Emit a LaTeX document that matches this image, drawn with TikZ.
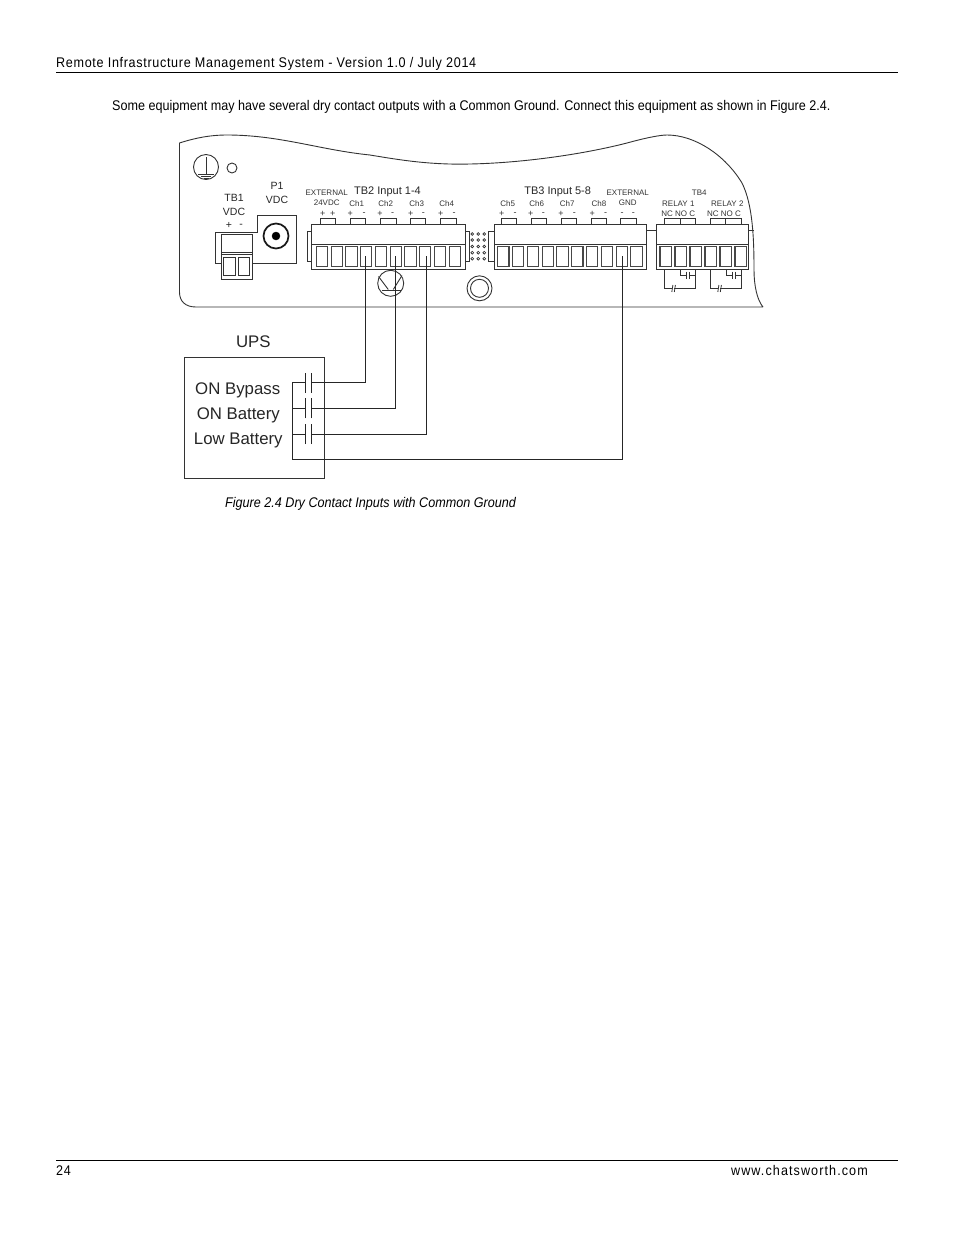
\documentclass[tikz,border=0pt]{standalone}
\usepackage{fontspec}
\setmainfont{Liberation Sans}[FakeStretch=0.9]
\newfontfamily\wide{Liberation Sans}
\newfontfamily\headfont{Liberation Sans}[FakeStretch=0.9,LetterSpace=4.8]
\newfontfamily\sitefont{Liberation Sans}[FakeStretch=0.9,LetterSpace=7.7]
\tikzset{>=stealth,
    page/.style = {inner sep=0pt, yshift=-1.5pt, font=\fontsize{14}{16}\selectfont},
    headtext/.style = {page, font=\headfont\fontsize{14}{16}\selectfont},
    lbl/.style = {inner sep=0pt, yshift=-0.7pt, text=black!80, font=\wide\fontsize{8}{9}\selectfont},
    sign/.style = {lbl, font=\wide\fontsize{9}{9}\selectfont},
    mid/.style = {inner sep=0pt, yshift=-0.7pt, text=black!85, font=\wide\fontsize{11}{12}\selectfont},
    midb/.style = {mid, font=\wide\fontsize{10.5}{12}\selectfont},
    big/.style = {inner sep=0pt, yshift=-1.5pt, text=black!85, font=\wide\fontsize{16.8}{18}\selectfont},
    line/.style = {draw=black!80, line width=0.9pt},
    thin line/.style = {draw=black!80, line width=0.8pt},
    term/.style = {draw=black!72, line width=1.1pt, inner sep=0pt, minimum width=11.3pt, minimum height=19.5pt},
    wire/.style = {draw=black!85, line width=1pt}}
\begin{document}
\begin{tikzpicture}[x=1pt,y=-1pt]
    \useasboundingbox (0,0) rectangle (954,1235);
    % page text
    \node [headtext, anchor=west] (head) at (56,62) {Remote Infrastructure Management System - Version 1.0 / July 2014};
    \node [page, anchor=west] (para) at (112,105) {Some equipment may have several dry contact outputs with a Common Ground. Connect this equipment as shown in Figure 2.4.};
    \node [page, anchor=west] (capt) at (225,502) {\itshape Figure 2.4 Dry Contact Inputs with Common Ground};
    \node [headtext, anchor=west] (pnum) at (56,1169) {24};
    \node [headtext, anchor=east, font=\sitefont\fontsize{14}{16}\selectfont] (site) at (868,1169) {www.chatsworth.com};
    \draw [line width=1.5pt] (56,72.5) -- (898,72.5);
    \draw [line width=0.6pt] (56,1160.5) -- (898,1160.5);
    % board
    \draw [line] (763,307) -- (196,307) .. controls (185,307) and (179.5,301) .. (179.5,292) -- (179.5,143)
        .. controls (195,138) and (210,135) .. (227,135) .. controls (280,135) and (320,150) .. (370,155)
        .. controls (400,160) and (430,165) .. (470,164) .. controls (520,163) and (580,155) .. (627,143)
        .. controls (645,138) and (660,135) .. (667,135) .. controls (695,135) and (725,155) .. (742,183)
        .. controls (753,205) and (754,240) .. (754,270) .. controls (754,285) and (757,300) .. (763,307);
    % earth mark
    \draw [line] (206,167) circle [radius=12.5];
    \draw [line] (232,168) circle [radius=5];
    \draw [line] (206,157) -- (206,174);
    \draw [line] (198,174) -- (214,174);
    \draw [line, line width=0.6pt] (201,176.5) -- (211,176.5);
    \draw [line, line width=0.6pt] (203.5,178.5) -- (208.5,178.5);
    % TB1 and P1
    \node [midb] (tbone) at (234,197) {TB1};
    \node [midb] (tbonev) at (234,211) {VDC};
    \node [midb] (tbonep) at (229,225) {+};
    \node [midb] (tbonem) at (241,225) {-};
    \node [midb] (pone) at (277,185) {P1};
    \node [midb] (ponev) at (277,199) {VDC};
    \draw [line] (221,263) -- (215,263) -- (215,232) -- (257,232) -- (257,215) -- (296,215) -- (296,263) -- (253,263);
    \draw [line, fill=white] (221,234) rectangle (252.5,279.5);
    \draw [line] (221,252.5) -- (252.5,252.5);
    \draw [line] (221,254.5) -- (252.5,254.5);
    \draw [line] (223.5,257) rectangle (235,275.5);
    \draw [line] (238,257) rectangle (249.5,275.5);
    \draw [line width=1.7pt, black!90] (276,236) circle [radius=12.5];
    \draw [fill=black] (276,236) circle [radius=4];
    % TB2
    \node [lbl] (extpow) at (326.7,191.7) {EXTERNAL};
    \node [mid] (tbtwo) at (387.5,190.7) {TB2 Input 1-4};
    \node [lbl] (vdcpow) at (326.7,202) {24VDC};
    \draw [line] (307.7,231.7) rectangle (311.7,261.7);
    \draw [line] (465.7,231.7) rectangle (469.5,261.7);
    \draw [line] (311.7,224.7) rectangle (465.7,269.3);
    \draw [line] (311.7,244) -- (465.7,244);
    \foreach \i in {1,...,10}
        \node [term] (two\i) at (307.25+14.75*\i,256.4) {};
    \foreach \a/\b in {320/335.7,350/365.7,380.7/396,410/425.7,440/456}
        \draw [line] (\a,224.7) -- (\a,218.3) -- (\b,218.3) -- (\b,224.7);
    \foreach \x/\t in {356.7/Ch1,385.7/Ch2,416.7/Ch3,446.7/Ch4}
        \node [lbl] (lab\t) at (\x,202.7) {\t};
    \foreach \x/\t in {322.7/+,332.7/+,350.3/+,364/-,380/+,392.7/-,410.7/+,423.3/-,440.7/+,454/-}
        \node [sign] at (\x,213) {\t};
    % transistor
    \draw [line] (390.7,283.3) circle [radius=13];
    \draw [line] (382.3,290) -- (400.7,290);
    \draw [line] (378.5,276.5) -- (388.3,289.5);
    \draw [line] (402,275.5) -- (393.3,289.5);
    % dots and screw
    \foreach \x in {472.3,478.3,484.3}
        \foreach \y in {234,240,246.5,252.7,258.7}
            \draw [black!80, line width=0.7pt] (\x,\y) circle [radius=1.4];
    \draw [line] (479.5,288.3) circle [radius=12.5];
    \draw [line] (479.5,288.3) circle [radius=9];
    % TB3
    \node [mid] (tbthree) at (557.7,190.7) {TB3 Input 5-8};
    \node [lbl] (extgnd) at (627.7,191.7) {EXTERNAL};
    \node [lbl] (gnd) at (627.7,202) {GND};
    \draw [line] (488.5,231.7) rectangle (494.3,261.7);
    \draw [line] (494.3,224.7) rectangle (646,269.3);
    \draw [line] (494.3,244) -- (646,244);
    \foreach \i in {1,...,10}
        \node [term] (three\i) at (488.55+14.8*\i,256.4) {};
    \foreach \a/\b in {501.7/516.7,531/546,561/576,591/606.7,620/636}
        \draw [line] (\a,224.7) -- (\a,218.3) -- (\b,218.3) -- (\b,224.7);
    \foreach \x/\t in {507.7/Ch5,536.7/Ch6,567.3/Ch7,599/Ch8}
        \node [lbl] (lab\t) at (\x,202.7) {\t};
    \foreach \x/\t in {501.7/+,515/-,530.7/+,543.3/-,561/+,574.3/-,592.3/+,605.7/-,622/-,633.3/-}
        \node [sign] at (\x,213) {\t};
    % TB4
    \node [lbl] (tbfour) at (699.3,191.7) {TB4};
    \node [lbl] (relone) at (678.3,202.7) {RELAY 1};
    \node [lbl] (reltwo) at (727.3,202.7) {RELAY 2};
    \node [lbl] (conone) at (678.3,213) {NC NO C};
    \node [lbl] (contwo) at (724,213) {NC NO C};
    \draw [line] (646,230.7) -- (656.7,230.7);
    \draw [line] (748.3,230.7) -- (753.5,230.7);
    \draw [line] (656.7,224.7) rectangle (748.3,269.3);
    \draw [line] (656.7,244) -- (748.3,244);
    \foreach \i in {1,...,6}
        \node [term, minimum width=11.7pt] (four\i) at (650.85+15*\i,256.4) {};
    \foreach \a/\b/\c in {664.3/680/695.7,710.7/725.7/741}
        \draw [line] (\a,224.7) -- (\a,218.3) -- (\c,218.3) -- (\c,224.7) (\b,218.3) -- (\b,224.7);
    % relay contacts
    \foreach \x in {664,710} {
        \draw [thin line] (\x,269.3) -- (\x,288.3) -- (\x+8.3,288.3) (\x+10.3,288.3) -- (\x+31,288.3) -- (\x+31,269.3);
        \draw [thin line] (\x+7.8,292) -- (\x+8.9,285) (\x+10.3,292) -- (\x+11.4,285);
        \draw [thin line] (\x+16,269.3) -- (\x+16,275) -- (\x+22,275) (\x+25,275) -- (\x+31,275);
        \draw [thin line] (\x+22,271.5) -- (\x+22,279) (\x+25,271.5) -- (\x+25,279);
    }
    % UPS
    \node [big] (upsname) at (253.3,340.7) {UPS};
    \draw [line] (184.7,357.7) rectangle (324.7,478.7);
    \node [big] (bypass) at (237.7,389) {ON Bypass};
    \node [big] (onbatt) at (238.3,414.3) {ON Battery};
    \node [big] (lowbatt) at (238.3,439.3) {Low Battery};
    \coordinate (bustop) at (292.3,382.7);
    \coordinate (busmid) at (292.3,408.3);
    \coordinate (buslow) at (292.3,434);
    \coordinate (busend) at (292.3,459.5);
    \draw [wire] (bustop) -- (busend);
    \foreach \n in {top,mid,low} {
        \coordinate (pl\n) at ([xshift=12.7pt]bus\n);
        \coordinate (pr\n) at ([xshift=19.2pt]bus\n);
        \draw [wire] (bus\n) -- (pl\n);
        \draw [wire] ([yshift=-10pt]pl\n) -- ([yshift=10pt]pl\n);
        \draw [wire] ([yshift=-10pt]pr\n) -- ([yshift=10pt]pr\n);
    }
    % wires
    \draw [wire] (prtop) -| ([xshift=-1pt]two4.center);
    \draw [wire] (prmid) -| (two6.center);
    \draw [wire] (prlow) -| ([xshift=1.5pt]two8.center);
    \draw [wire] (busend) -| ([xshift=0.8pt]three9.center);
\end{tikzpicture}
\end{document}
